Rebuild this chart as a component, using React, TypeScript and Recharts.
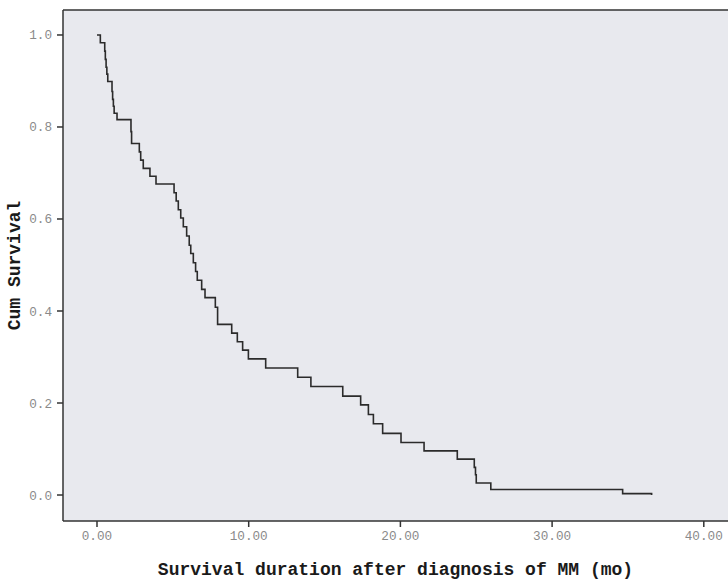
import React from 'react';
import {
  LineChart,
  Line,
  XAxis,
  YAxis,
  CartesianGrid,
  ReferenceLine,
} from 'recharts';

// Kaplan-Meier step curve: time of each event (months) and survival after it
const times = [
  0, 0.22, 0.51, 0.55, 0.6, 0.65, 0.71, 0.99, 1.03, 1.08, 1.13, 1.32, 2.24, 2.28,
  2.79, 2.88, 3.05, 3.49, 3.89, 5.08, 5.22, 5.36, 5.52, 5.69, 5.91, 6.08, 6.18,
  6.35, 6.5, 6.61, 6.9, 7.12, 7.8, 7.95, 8.88, 9.25, 9.6, 9.98, 11.12, 13.23,
  14.1, 16.2, 17.38, 17.89, 18.22, 18.83, 20.04, 21.56, 23.75, 24.87, 24.95,
  25.0, 25.96, 34.65, 36.56,
];
const survival = [
  1.0, 0.983, 0.965, 0.947, 0.93, 0.915, 0.899, 0.877, 0.86, 0.845, 0.83, 0.816,
  0.79, 0.764, 0.746, 0.728, 0.71, 0.693, 0.676, 0.657, 0.639, 0.62, 0.602,
  0.583, 0.563, 0.543, 0.525, 0.505, 0.486, 0.467, 0.447, 0.429, 0.408, 0.371,
  0.352, 0.333, 0.315, 0.296, 0.276, 0.256, 0.236, 0.215, 0.196, 0.175, 0.155,
  0.134, 0.114, 0.096, 0.078, 0.06, 0.044, 0.026, 0.012, 0.003, 0.0,
];
const xTicks = [0, 10, 20, 30, 40];
const yTicks = [0, 0.2, 0.4, 0.6, 0.8, 1.0];
const xTitle = 'Survival duration after diagnosis of MM (mo)';
const yTitle = 'Cum Survival';

const data = times.map((t, i) => ({ time: t, surv: survival[i] }));

const X_DOMAIN: [number, number] = [-2.241, 41.595];
const Y_DOMAIN: [number, number] = [-0.0565, 1.0543];

const MONO = '"Liberation Mono", "Courier New", monospace';
const AXIS = '#333333';

const XTitle = (props: any) => {
  const vb = props.viewBox || {};
  return (
    <text
      x={vb.x + vb.width / 2}
      y={575}
      textAnchor="middle"
      fontFamily={MONO}
      fontWeight="bold"
      fontSize={18}
      fill="#1a1a1a"
    >
      {xTitle}
    </text>
  );
};

const YTitle = (props: any) => {
  const vb = props.viewBox || {};
  const cx = 15;
  const cy = vb.y + vb.height / 2;
  return (
    <text
      x={cx}
      y={cy}
      transform={`rotate(-90, ${cx}, ${cy})`}
      textAnchor="middle"
      dominantBaseline="central"
      fontFamily={MONO}
      fontWeight="bold"
      fontSize={18}
      fill="#1a1a1a"
    >
      {yTitle}
    </text>
  );
};

export default function App() {
  return (
    <div
      style={{
        position: 'absolute',
        left: 0,
        top: 0,
        width: 728,
        height: 579,
        overflow: 'hidden',
        background: '#ffffff',
      }}
    >
      <LineChart
        width={728}
        height={579}
        data={data}
        margin={{ top: 10, right: 0, bottom: 0, left: 0 }}
      >
        <CartesianGrid horizontal={false} vertical={false} fill="#e8e9ee" stroke="none" />
        <XAxis
          dataKey="time"
          type="number"
          domain={X_DOMAIN}
          allowDataOverflow
          ticks={xTicks}
          interval={0}
          tickFormatter={(v: number) => v.toFixed(2)}
          height={58}
          tickSize={6}
          tickMargin={4}
          axisLine={{ stroke: AXIS, strokeWidth: 1.5 }}
          tickLine={{ stroke: AXIS, strokeWidth: 1.5 }}
          tick={{ fill: '#8a8a8a', fontSize: 12.7, fontFamily: MONO }}
          label={<XTitle />}
        />
        <YAxis
          type="number"
          domain={Y_DOMAIN}
          allowDataOverflow
          ticks={yTicks}
          interval={0}
          tickFormatter={(v: number) => v.toFixed(1)}
          width={63}
          tickSize={6}
          tickMargin={5}
          axisLine={{ stroke: AXIS, strokeWidth: 1.5 }}
          tickLine={{ stroke: AXIS, strokeWidth: 1.5 }}
          tick={{ fill: '#8a8a8a', fontSize: 12.7, fontFamily: MONO }}
          label={<YTitle />}
        />
        <ReferenceLine y={Y_DOMAIN[1]} stroke={AXIS} strokeWidth={1.5} />
        <Line
          type="stepAfter"
          dataKey="surv"
          stroke="#2b2b2b"
          strokeWidth={1.6}
          dot={false}
          activeDot={false}
          isAnimationActive={false}
        />
      </LineChart>
    </div>
  );
}
